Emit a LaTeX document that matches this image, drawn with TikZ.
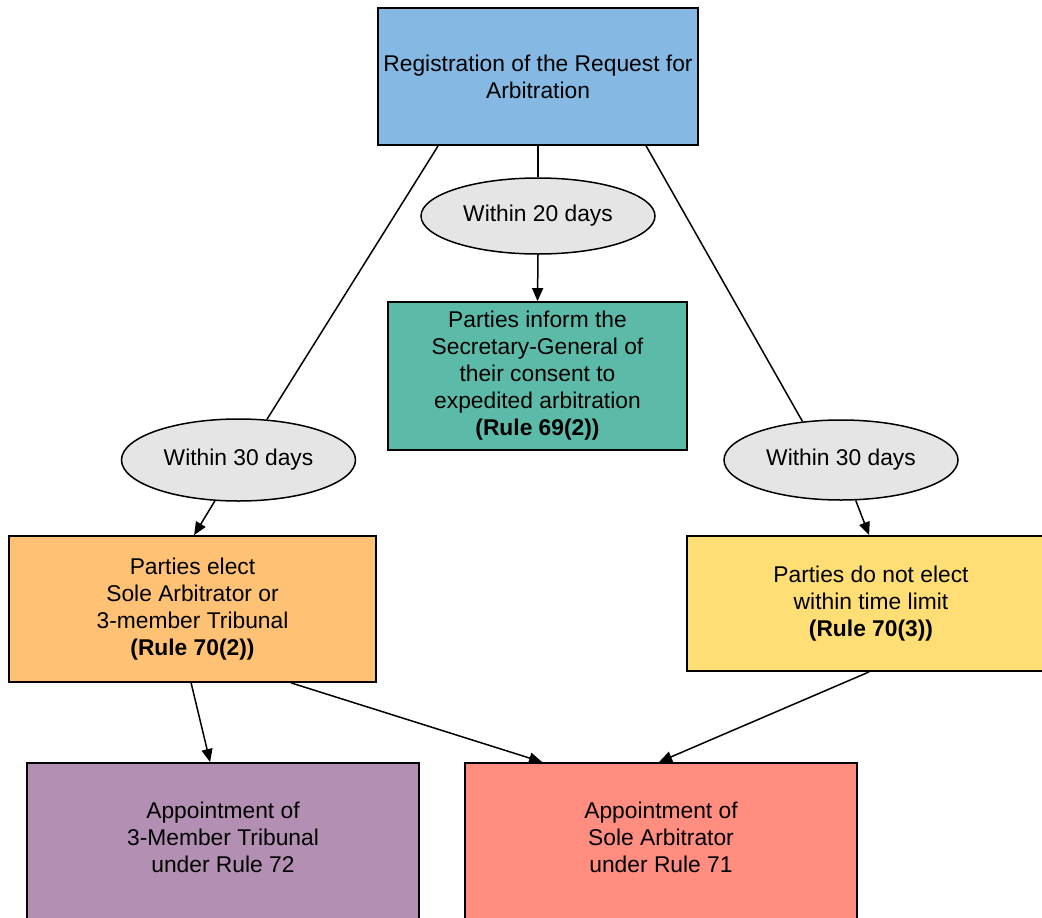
\documentclass[tikz,border=0pt]{standalone}
\usepackage{fontspec}
\setmainfont{Liberation Sans}
\usetikzlibrary{arrows.meta,shapes.geometric}

\definecolor{regblue}{HTML}{85B9E3}
\definecolor{consentteal}{HTML}{5CBBA8}
\definecolor{electorange}{HTML}{FFC274}
\definecolor{lapseyellow}{HTML}{FFDE75}
\definecolor{tripurple}{HTML}{B28FB3}
\definecolor{solesalmon}{HTML}{FF8D80}
\definecolor{limitgrey}{HTML}{E5E5E5}

\tikzset{
  txt/.style={font=\fontsize{22.8}{27}\selectfont, align=center},
  box/.style={txt, draw=black, line width=1.8pt, rectangle, inner sep=0pt},
  limit/.style={txt, draw=black, line width=1.5pt, ellipse, fill=limitgrey,
    minimum width=234pt, inner sep=0pt},
  link/.style={draw=black, line width=1.5pt},
  flow/.style={link, -{Triangle[length=13pt,width=11pt]}},
}

\begin{document}
\begin{tikzpicture}[x=1pt, y=-1pt]
  \useasboundingbox (0,0) rectangle (1042,918);
  \clip (0,0) rectangle (1042,918);

  % request registration and the three time limits
  \node[box, fill=regblue, minimum width=320pt, minimum height=137pt] (reg) at (538,76.5)
    {Registration of the Request for\\Arbitration};
  \node[limit, minimum height=76pt] (e20) at (538,216) {Within 20 days};
  \node[limit, minimum height=82pt] (left30) at (238.5,460) {Within 30 days};
  \node[limit, minimum height=80pt] (right30) at (841,460) {Within 30 days};

  % outcome boxes
  \node[box, fill=consentteal, minimum width=299pt, minimum height=148pt] (consent) at (537.5,376)
    {Parties inform the\\Secretary-General of\\their consent to\\expedited arbitration\\\textbf{(Rule 69(2))}};
  \node[box, fill=electorange, minimum width=367pt, minimum height=146pt] (elect) at (192.5,609)
    {Parties elect\\Sole Arbitrator or\\3-member Tribunal\\\textbf{(Rule 70(2))}};
  \node[box, fill=lapseyellow, minimum width=368pt, minimum height=135pt] (lapse) at (871,603.5)
    {Parties do not elect\\within time limit\\\textbf{(Rule 70(3))}};

  % appointment boxes, running past the lower edge
  \node[box, fill=tripurple, minimum width=392pt, minimum height=190pt, anchor=north] (tri) at (223,762) {};
  \node[txt] (triText) at (223,837) {Appointment of\\3-Member Tribunal\\under Rule 72};
  \node[box, fill=solesalmon, minimum width=392pt, minimum height=190pt, anchor=north] (sole) at (661,762) {};
  \node[txt] (soleText) at (661,837) {Appointment of\\Sole Arbitrator\\under Rule 71};

  % connectors
  \draw[link] (reg.south) -- (e20.north);
  \draw[flow] (e20.south) -- (consent.north);
  \draw[link] ([xshift=61pt]reg.south west) -- (left30.55);
  \draw[link] ([xshift=269pt]reg.south west) -- (right30.135);
  \draw[flow] (left30.240) -- ([xshift=186pt]elect.north west);
  \draw[flow] (right30.290) -- ([xshift=183pt]lapse.north west);
  \draw[flow] ([xshift=183pt]elect.south west) -- ([xshift=184pt]tri.north west);
  \draw[flow] ([xshift=283pt]elect.south west) -- ([xshift=78pt]sole.north west);
  \draw[flow] ([xshift=183pt]lapse.south west) -- ([xshift=195pt]sole.north west);
\end{tikzpicture}
\end{document}
